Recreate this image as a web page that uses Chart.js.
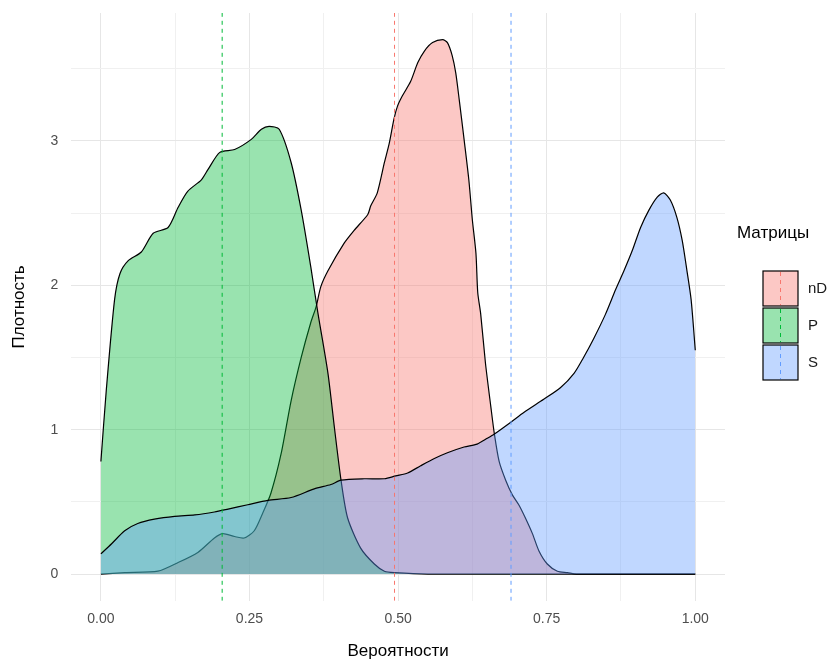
<!DOCTYPE html>
<html>
<head>
<meta charset="utf-8">
<script src="https://cdn.jsdelivr.net/npm/chart.js@4.4.1/dist/chart.umd.min.js"></script>
<style>
  html, body { margin: 0; padding: 0; background: #fff; }
  #wrap { width: 839px; height: 666px; }
</style>
</head>
<body>
<div id="wrap"><canvas id="densityChart" width="839" height="666"></canvas></div>
<script>
// ===== density plot: Вероятности / Плотность =====

// group names (legend order)
const groups = ['nD', 'P', 'S'];
const groupColors = ['#F8766D', '#00BA38', '#619CFF'];
const groupFills = ['rgba(248,118,109,0.4)', 'rgba(0,186,56,0.4)', 'rgba(97,156,255,0.4)'];

// nD density
const ndX = [0, 0.04, 0.096, 0.13, 0.163, 0.191, 0.205, 0.225, 0.241, 0.258,
  0.272, 0.286, 0.303, 0.32, 0.337, 0.353, 0.362, 0.37, 0.382, 0.409,
  0.426, 0.449, 0.454, 0.465, 0.477, 0.485, 0.493, 0.499, 0.507, 0.521,
  0.533, 0.544, 0.558, 0.575, 0.583, 0.591, 0.597, 0.603, 0.611, 0.619,
  0.625, 0.631, 0.634, 0.639, 0.647, 0.656, 0.662, 0.67, 0.681, 0.692,
  0.703, 0.714, 0.726, 0.737, 0.751, 0.768, 0.785, 0.8, 1.0];
const ndY = [0, 0.01, 0.02, 0.08, 0.15, 0.25, 0.28, 0.26, 0.25, 0.30,
  0.42, 0.56, 0.83, 1.20, 1.50, 1.74, 1.85, 1.99, 2.10, 2.29,
  2.38, 2.49, 2.55, 2.64, 2.85, 2.98, 3.15, 3.24, 3.31, 3.41,
  3.54, 3.62, 3.68, 3.70, 3.68, 3.59, 3.47, 3.28, 3.01, 2.73,
  2.45, 2.22, 1.95, 1.80, 1.46, 1.16, 0.97, 0.78, 0.65, 0.55,
  0.48, 0.39, 0.28, 0.16, 0.07, 0.02, 0.01, 0, 0];

// P density
const pX = [0, 0.009, 0.023, 0.032, 0.046, 0.068, 0.088, 0.113, 0.13, 0.146,
  0.169, 0.18, 0.2, 0.225, 0.253, 0.27, 0.283, 0.3, 0.32, 0.337,
  0.353, 0.365, 0.382, 0.393, 0.404, 0.415, 0.437, 0.46, 0.477, 0.494,
  0.55, 1.0];
const pY = [0.78, 1.27, 1.90, 2.08, 2.17, 2.23, 2.36, 2.40, 2.54, 2.65,
  2.73, 2.80, 2.92, 2.94, 3.01, 3.08, 3.10, 3.08, 2.85, 2.52,
  2.13, 1.81, 1.39, 1.01, 0.65, 0.39, 0.18, 0.07, 0.02, 0.01,
  0, 0];

// S density
const sX = [0, 0.018, 0.04, 0.062, 0.09, 0.124, 0.158, 0.191, 0.214, 0.247,
  0.281, 0.32, 0.359, 0.387, 0.404, 0.443, 0.477, 0.496, 0.516, 0.538,
  0.561, 0.583, 0.611, 0.633, 0.65, 0.662, 0.689, 0.712, 0.745, 0.773,
  0.796, 0.812, 0.829, 0.849, 0.866, 0.88, 0.894, 0.908, 0.922, 0.936,
  0.947, 0.958, 0.969, 0.978, 0.986, 0.993, 1.0];
const sY = [0.14, 0.21, 0.30, 0.35, 0.38, 0.40, 0.41, 0.43, 0.45, 0.48,
  0.51, 0.53, 0.59, 0.62, 0.65, 0.66, 0.66, 0.68, 0.70, 0.75,
  0.80, 0.84, 0.88, 0.90, 0.94, 0.97, 1.05, 1.12, 1.21, 1.29,
  1.39, 1.50, 1.63, 1.80, 1.97, 2.10, 2.24, 2.40, 2.52, 2.61,
  2.64, 2.59, 2.47, 2.31, 2.10, 1.90, 1.55];

// group means (dashed vertical lines)
const groupMeans = [0.494, 0.204, 0.69];

// axis ticks
const xTicks = [0, 0.125, 0.25, 0.375, 0.5, 0.625, 0.75, 0.875, 1];
const xLabels = ['0.00', '', '0.25', '', '0.50', '', '0.75', '', '1.00'];
const yTicks = [0, 0.5, 1, 1.5, 2, 2.5, 3, 3.5];
const yLabels = ['0', '', '1', '', '2', '', '3', ''];

const X_MIN = -0.05, X_MAX = 1.05;
const Y_MIN = -0.185, Y_MAX = 3.885;

const FONT = "'Liberation Sans', Arial, sans-serif";

function toPoints(xs, ys) {
    return xs.map((x, i) => ({ x: x, y: ys[i] }));
}

const curves = [toPoints(ndX, ndY), toPoints(pX, pY), toPoints(sX, sY)];

const datasets = [];

// density areas: nD at the bottom, S on top
curves.forEach((pts, i) => {
    datasets.push({
        label: groups[i],
        data: pts,
        borderColor: '#000',
        borderWidth: 1.2,
        backgroundColor: groupFills[i],
        fill: 'origin',
        pointRadius: 0,
        tension: 0.25,
        order: 10 - i
    });
});

// dashed mean lines
groupMeans.forEach((m, i) => {
    datasets.push({
        label: groups[i] + ' mean',
        data: [{ x: m, y: Y_MIN }, { x: m, y: Y_MAX }],
        borderColor: groupColors[i],
        borderWidth: 1,
        borderDash: [4, 4],
        fill: false,
        pointRadius: 0,
        order: 0
    });
});

/**
 * ggplot-style legend on the right
 */
const sideLegend = {
    id: 'sideLegend',
    afterDraw(chart) {
        const ctx = chart.ctx;
        ctx.save();
        ctx.fillStyle = '#000';
        ctx.font = '17px ' + FONT;
        ctx.textBaseline = 'middle';
        ctx.textAlign = 'left';
        ctx.fillText('Матрицы', 737, 233);

        const boxX = 763, boxW = 35, boxH = 35;
        groups.forEach((g, i) => {
            const y = 271 + i * 37;
            ctx.fillStyle = '#fff';
            ctx.fillRect(boxX, y, boxW, boxH);
            ctx.fillStyle = groupFills[i];
            ctx.fillRect(boxX, y, boxW, boxH);
            // dashed mean line inside the key
            ctx.strokeStyle = groupColors[i];
            ctx.lineWidth = 1;
            ctx.setLineDash([4, 4]);
            ctx.beginPath();
            ctx.moveTo(boxX + boxW / 2, y + 1);
            ctx.lineTo(boxX + boxW / 2, y + boxH - 1);
            ctx.stroke();
            ctx.setLineDash([]);
            ctx.strokeStyle = '#000';
            ctx.lineWidth = 1.2;
            ctx.strokeRect(boxX, y, boxW, boxH);

            ctx.fillStyle = '#1a1a1a';
            ctx.font = '15px ' + FONT;
            ctx.fillText(g, 808, y + boxH / 2);
        });
        ctx.restore();
    }
};

new Chart(document.getElementById('densityChart').getContext('2d'), {
    type: 'line',
    data: { datasets: datasets },
    options: {
        responsive: false,
        animation: false,
        layout: {
            padding: { top: 13, right: 114, left: 9, bottom: 4 }
        },
        plugins: {
            legend: { display: false },
            tooltip: { enabled: false }
        },
        scales: {
            x: {
                type: 'linear',
                min: X_MIN,
                max: X_MAX,
                afterBuildTicks: function(scale) {
                    scale.ticks = xTicks.map(v => ({ value: v }));
                },
                border: { display: false },
                grid: {
                    color: ctx => (ctx.index % 2 === 0 ? '#e6e6e6' : '#f0f0f0'),
                    lineWidth: 1,
                    drawTicks: false
                },
                ticks: {
                    autoSkip: false,
                    maxRotation: 0,
                    padding: 10,
                    color: '#4d4d4d',
                    font: { family: FONT, size: 14 },
                    callback: function(value, index) {
                        return xLabels[index];
                    }
                },
                title: {
                    display: true,
                    text: 'Вероятности',
                    color: '#000',
                    font: { family: FONT, size: 17 },
                    padding: { top: 4, bottom: 0 }
                }
            },
            y: {
                type: 'linear',
                min: Y_MIN,
                max: Y_MAX,
                afterBuildTicks: function(scale) {
                    scale.ticks = yTicks.map(v => ({ value: v }));
                },
                afterFit: function(scale) {
                    // no extra room for the (empty) top label
                    scale.paddingTop = 0;
                },
                border: { display: false },
                grid: {
                    color: ctx => (ctx.index % 2 === 0 ? '#e6e6e6' : '#f0f0f0'),
                    lineWidth: 1,
                    drawTicks: false
                },
                ticks: {
                    autoSkip: false,
                    padding: 13,
                    color: '#4d4d4d',
                    font: { family: FONT, size: 14 },
                    callback: function(value, index) {
                        return yLabels[index];
                    }
                },
                title: {
                    display: true,
                    text: 'Плотность',
                    color: '#000',
                    font: { family: FONT, size: 17 },
                    padding: { top: 0, bottom: 8 }
                }
            }
        }
    },
    plugins: [sideLegend]
});
</script>
</body>
</html>
